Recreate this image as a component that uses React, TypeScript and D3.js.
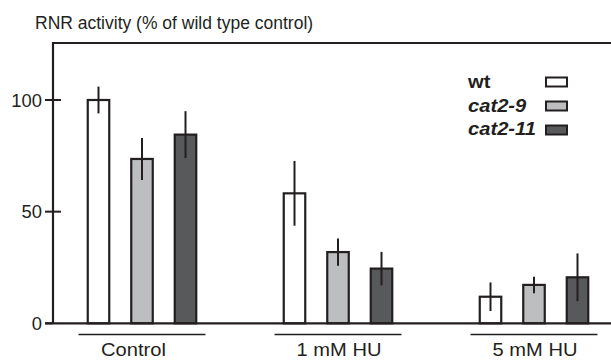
import React from "react";
import * as d3 from "d3";

const groups = ["Control", "1 mM HU", "5 mM HU"];
const series = ["wt", "cat2-9", "cat2-11"];
const seriesColors = ["#ffffff", "#bdbec0", "#58595b"];
const seriesItalic = [false, true, true];
// values per series, one entry per group
const wtValues = [100, 58.2, 11.9];
const cat29Values = [73.6, 31.9, 17.2];
const cat211Values = [84.5, 24.5, 20.6];
const wtErrors = [6, 14.5, 6.4];
const cat29Errors = [9.4, 6.1, 3.7];
const cat211Errors = [10.5, 7.5, 10.7];
const yTicks = [0, 50, 100];
const title = "RNR activity (% of wild type control)";

const W = 611;
const H = 361;
const axisX = 53;
const topY = 43;
const baseY = 323.3;

function SText(props: {
  x: number;
  y: number;
  sx: number;
  anchor?: string;
  size: number;
  weight?: string;
  italic?: boolean;
  children: React.ReactNode;
}) {
  return (
    <text
      transform={`translate(${props.x},${props.y}) scale(${props.sx},1)`}
      textAnchor={props.anchor || "start"}
      fontSize={props.size}
      fontWeight={props.weight || "normal"}
      fontStyle={props.italic ? "italic" : "normal"}
      fill="#231f20"
    >
      {props.children}
    </text>
  );
}

export default function App() {
  const y = d3.scaleLinear().domain([0, 100]).range([baseY, 100]);
  const x0 = d3.scaleBand<string>().domain(groups).range([44, 632]);
  const x1 = d3.scalePoint<string>().domain(series).range([-43.5, 43.5]);
  const barW = 21.5;
  const values = [wtValues, cat29Values, cat211Values];
  const errors = [wtErrors, cat29Errors, cat211Errors];
  const stroke = "#231f20";
  const font = "Liberation Sans, Arial, sans-serif";

  const bars: React.ReactNode[] = [];
  groups.forEach((g, gi) => {
    const gc = (x0(g) as number) + x0.bandwidth() / 2;
    series.forEach((s, si) => {
      const cx = gc + (x1(s) as number);
      const v = values[si][gi];
      const e = errors[si][gi];
      bars.push(
        <g key={g + s}>
          <rect
            x={cx - barW / 2}
            y={y(v)}
            width={barW}
            height={baseY - y(v)}
            fill={seriesColors[si]}
            stroke={stroke}
            strokeWidth={2.2}
          />
          <line x1={cx} x2={cx} y1={y(v + e)} y2={y(v - e)} stroke={stroke} strokeWidth={2} />
        </g>
      );
    });
  });

  return (
    <svg width={W} height={H} style={{ position: "absolute", left: 0, top: 0, background: "#fff" }} fontFamily={font}>
      <SText x={35} y={28.5} sx={1.0} size={17.5}>{title}</SText>
      <path d={`M${axisX},${baseY} V${topY} H${W}`} fill="none" stroke={stroke} strokeWidth={2.2} />
      {bars}
      <line x1={45} x2={W} y1={baseY} y2={baseY} stroke={stroke} strokeWidth={2.2} />
      {yTicks.map((t) => (
        <g key={t}>
          <line x1={45} x2={t === 0 ? axisX : 61} y1={y(t)} y2={y(t)} stroke={stroke} strokeWidth={2} />
          <SText x={42} y={y(t) + 6.5} sx={1.05} anchor="end" size={17.5}>{t}</SText>
        </g>
      ))}
      {groups.map((g) => {
        const gc = (x0(g) as number) + x0.bandwidth() / 2;
        return (
          <g key={g}>
            <line x1={gc - 63.5} x2={gc + 63.5} y1={334.5} y2={334.5} stroke={stroke} strokeWidth={1.3} />
            <SText x={g === "Control" ? gc - 8.5 : gc + 1} y={355.5} sx={1.15} anchor="middle" size={17.5}>{g}</SText>
          </g>
        );
      })}
      {series.map((s, si) => (
        <g key={s}>
          <SText x={468} y={88 + si * 23.5} sx={1.12} size={18} weight="bold" italic={seriesItalic[si]}>{s}</SText>
          <rect x={546} y={77.5 + si * 24} width={21} height={9} fill={seriesColors[si]} stroke={stroke} strokeWidth={2} />
        </g>
      ))}
    </svg>
  );
}
